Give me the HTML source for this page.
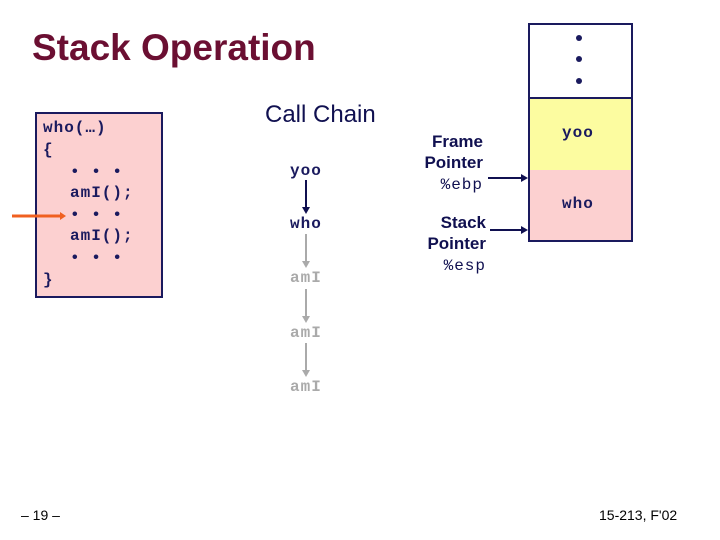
<!DOCTYPE html>
<html><head><style>
body{margin:0;width:720px;height:540px;background:#fff;position:relative;overflow:hidden;font-family:"Liberation Sans",sans-serif}
.a{position:absolute;white-space:nowrap}
.m{font-family:"Liberation Mono",monospace;font-weight:bold;font-size:16px;letter-spacing:1px;color:#1a1a5e}
.b{font-weight:bold;font-size:17px;color:#101050}
</style></head><body>
<div class="a" style="left:32px;top:27px;font-size:37px;font-weight:bold;color:#6b0f32">Stack Operation</div>
<div class="a" style="left:35px;top:112px;width:124px;height:182px;background:#fcd0d0;border:2px solid #1a1a5e"></div>
<div class="a m" style="left:43px;top:119px">who(…)</div>
<div class="a m" style="left:43px;top:141px">{</div>
<div class="a m" style="left:70px;top:163px">•&nbsp;•&nbsp;•</div>
<div class="a m" style="left:70px;top:184px">amI();</div>
<div class="a m" style="left:70px;top:206px">•&nbsp;•&nbsp;•</div>
<div class="a m" style="left:70px;top:227px">amI();</div>
<div class="a m" style="left:70px;top:249px">•&nbsp;•&nbsp;•</div>
<div class="a m" style="left:43px;top:271px">}</div>
<div class="a" style="left:265px;top:101px;font-size:24px;color:#101050">Call Chain</div>
<div class="a m" style="left:290px;top:162px">yoo</div>
<div class="a m" style="left:290px;top:215px">who</div>
<div class="a m" style="left:290px;top:269px;color:#aaa">amI</div>
<div class="a m" style="left:290px;top:324px;color:#aaa">amI</div>
<div class="a m" style="left:290px;top:378px;color:#aaa">amI</div>
<div class="a" style="left:528px;top:23px;width:101px;height:215px;border:2px solid #1a1a5e"></div>
<div class="a" style="left:530px;top:97px;width:101px;height:71px;background:#fcfca0;border-top:2px solid #1a1a5e;border-bottom:2px solid #1a1a5e"></div>
<div class="a" style="left:530px;top:170px;width:101px;height:70px;background:#fcd0d0"></div>
<div class="a m" style="left:562px;top:124px">yoo</div>
<div class="a m" style="left:562px;top:195px">who</div>
<div class="a b" style="left:400px;top:131px;width:83px;text-align:right;line-height:21px">Frame<br>Pointer<br><span class="m" style="font-weight:normal;color:#101050">%ebp</span></div>
<div class="a b" style="left:400px;top:212px;width:86px;text-align:right;line-height:21px">Stack<br>Pointer<br><span class="m" style="font-weight:normal;color:#101050">%esp</span></div>
<div class="a" style="left:21px;top:507px;font-size:14px">– 19 –</div>
<div class="a" style="left:599px;top:507px;font-size:14px">15-213, F'02</div>
<svg class="a" style="left:0;top:0" width="720" height="540">
<circle cx="579" cy="38" r="3" fill="#1a1a5e"/><circle cx="579" cy="59" r="3" fill="#1a1a5e"/><circle cx="579" cy="81" r="3" fill="#1a1a5e"/>
<line x1="12" y1="216" x2="60" y2="216" stroke="#f06020" stroke-width="3"/><polygon points="60,212 66,216 60,220" fill="#f06020"/>
<line x1="306" y1="180" x2="306" y2="208" stroke="#101050" stroke-width="2"/><polygon points="302,207 306,214 310,207" fill="#101050"/>
<line x1="306" y1="234" x2="306" y2="262" stroke="#aaa" stroke-width="2"/><polygon points="302,261 306,268 310,261" fill="#aaa"/>
<line x1="306" y1="289" x2="306" y2="317" stroke="#aaa" stroke-width="2"/><polygon points="302,316 306,323 310,316" fill="#aaa"/>
<line x1="306" y1="343" x2="306" y2="371" stroke="#aaa" stroke-width="2"/><polygon points="302,370 306,377 310,370" fill="#aaa"/>
<line x1="488" y1="178" x2="522" y2="178" stroke="#101050" stroke-width="2"/><polygon points="521,174 528,178 521,182" fill="#101050"/>
<line x1="490" y1="230" x2="522" y2="230" stroke="#101050" stroke-width="2"/><polygon points="521,226 528,230 521,234" fill="#101050"/>
</svg>
</body></html>
